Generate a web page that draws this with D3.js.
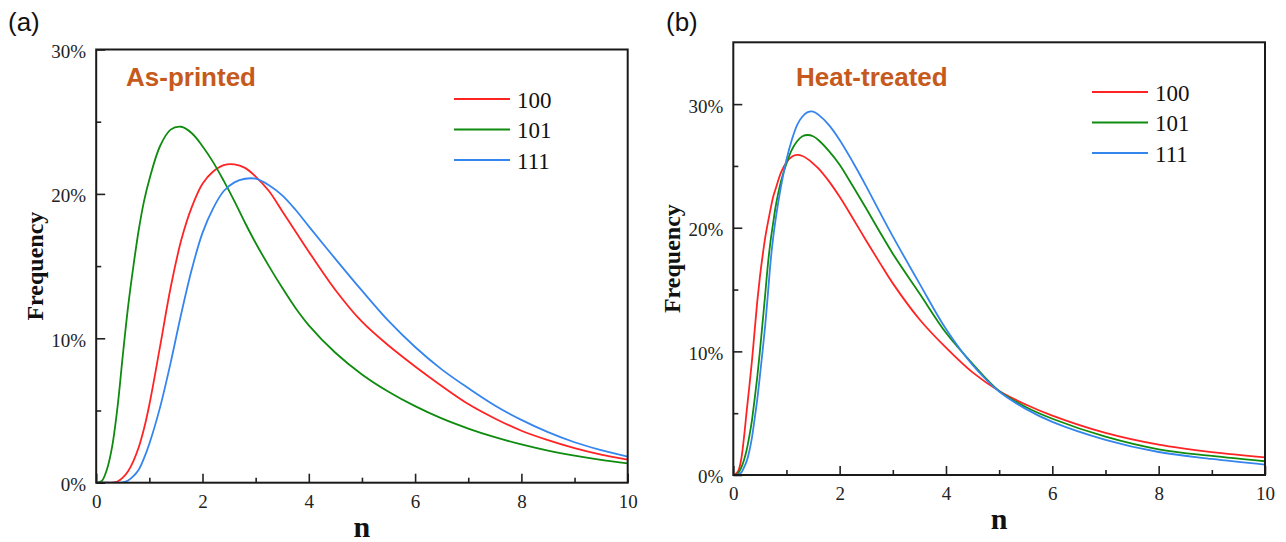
<!DOCTYPE html>
<html>
<head>
<meta charset="utf-8">
<script src="https://cdn.jsdelivr.net/npm/d3@7"></script>
<style>
  body { margin: 0; background: #fff; }
  svg { display: block; }
  .tick text { font-family: "Liberation Serif", "Times New Roman", serif; font-size: 19px; fill: #222; }
</style>
</head>
<body>
<svg id="chart" width="1286" height="542"></svg>
<script>
// n grid + frequencies (%)
const nA = [0, 0.1, 0.2, 0.3, 0.4, 0.5, 0.6, 0.7, 0.8, 0.9, 1.0, 1.2, 1.4, 1.6, 1.8, 2.0, 2.2, 2.4, 2.6, 2.8, 3.0, 3.25, 3.5, 3.75, 4.0, 4.5, 5.0, 5.5, 6.0, 6.5, 7.0, 7.5, 8.0, 8.5, 9.0, 9.5, 10];
const a100 = [0, 0, 0, 0, 0.08, 0.35, 0.8, 1.5, 2.45, 3.75, 5.4, 9.4, 13.5, 16.8, 19.1, 20.7, 21.55, 22.0, 22.05, 21.8, 21.2, 20.2, 18.8, 17.4, 16.0, 13.35, 11.15, 9.5, 8.05, 6.7, 5.45, 4.45, 3.6, 2.95, 2.4, 1.95, 1.6];
const a101 = [0, 0.1, 0.9, 2.5, 5.2, 8.8, 12.2, 15.0, 17.5, 19.5, 21.0, 23.3, 24.45, 24.65, 24.2, 23.3, 22.2, 20.9, 19.5, 18.0, 16.6, 15.0, 13.5, 12.1, 10.9, 9.0, 7.5, 6.3, 5.3, 4.45, 3.75, 3.15, 2.65, 2.22, 1.87, 1.58, 1.34];
const a111 = [0, 0, 0, 0, 0, 0.02, 0.15, 0.45, 0.9, 1.7, 2.7, 5.2, 8.3, 11.7, 14.8, 17.3, 19.0, 20.2, 20.8, 21.05, 21.05, 20.6, 19.9, 18.9, 17.75, 15.5, 13.3, 11.2, 9.4, 7.85, 6.55, 5.35, 4.35, 3.5, 2.8, 2.25, 1.8];

const nB = [0, 0.05, 0.1, 0.15, 0.2, 0.25, 0.3, 0.35, 0.4, 0.45, 0.5, 0.55, 0.6, 0.65, 0.7, 0.75, 0.8, 0.9, 1.0, 1.1, 1.2, 1.3, 1.4, 1.5, 1.6, 1.8, 2.0, 2.25, 2.5, 2.75, 3.0, 3.5, 4.0, 4.5, 5.0, 5.5, 6, 7, 8, 9, 10];
const b100 = [0, 0.1, 0.4, 1.3, 3.0, 5.1, 7.1, 9.2, 11.6, 14.0, 16.0, 17.7, 19.2, 20.4, 21.5, 22.5, 23.2, 24.5, 25.3, 25.75, 25.9, 25.8, 25.55, 25.2, 24.8, 23.75, 22.5, 20.75, 18.95, 17.2, 15.5, 12.6, 10.3, 8.3, 6.8, 5.7, 4.8, 3.4, 2.45, 1.85, 1.43];
const b101 = [0, 0, 0.2, 0.6, 1.2, 2.0, 3.1, 4.4, 6.1, 7.9, 10.0, 12.3, 14.6, 17.0, 18.9, 20.4, 21.8, 23.8, 25.2, 26.3, 27.0, 27.4, 27.5, 27.4, 27.1, 26.2, 25.1, 23.35, 21.55, 19.7, 17.9, 14.7, 11.5, 9.0, 6.8, 5.5, 4.55, 3.1, 2.08, 1.54, 1.11];
const b111 = [0, 0, 0.05, 0.2, 0.6, 1.1, 1.9, 3.0, 4.5, 6.1, 8.0, 10.0, 12.1, 14.6, 17.2, 19.2, 20.8, 23.4, 25.5, 27.1, 28.3, 29.0, 29.35, 29.4, 29.15, 28.3, 27.1, 25.3, 23.35, 21.3, 19.3, 15.5, 11.8, 8.9, 6.75, 5.35, 4.3, 2.85, 1.86, 1.3, 0.84];

const seriesNames = ["100", "101", "111"];
const seriesColors = ["#ff2424", "#0f8c0f", "#3585ee"];
const xMajor = [0, 2, 4, 6, 8, 10];
const xMinor = [1, 3, 5, 7, 9];
const yMajor = [0, 10, 20, 30];
const yMinor = [5, 15, 25];

const serif = '"Liberation Serif", "Times New Roman", serif';
const sans = '"Liberation Sans", Arial, sans-serif';
const svg = d3.select("#chart");

function drawPanel(p) {
  const x = d3.scaleLinear().domain([0, 10]).range([p.left, p.right]);
  const y = d3.scaleLinear().domain([0, p.yMax]).range([p.bottom, p.top]);
  const g = svg.append("g");

  // minor ticks (no labels)
  g.append("g").attr("transform", `translate(0,${p.bottom})`)
    .call(d3.axisBottom(x).tickValues(xMinor).tickSize(-5).tickFormat(""));
  g.append("g").attr("transform", `translate(${p.left},0)`)
    .call(d3.axisLeft(y).tickValues(yMinor).tickSize(-5).tickFormat(""));
  // major ticks
  g.append("g").attr("transform", `translate(0,${p.bottom})`)
    .call(d3.axisBottom(x).tickValues(xMajor).tickSize(-9).tickPadding(12).tickFormat(d3.format("d")));
  g.append("g").attr("transform", `translate(${p.left},0)`)
    .call(d3.axisLeft(y).tickValues(yMajor).tickSize(-9).tickPadding(10).tickFormat(d => d + "%"))
    .selectAll("text").attr("dy", "0.42em");

  g.selectAll(".domain").remove();
  g.selectAll(".tick line").attr("stroke", "#222").attr("stroke-width", 1.6);

  const clipId = "clip" + p.tag;
  svg.append("clipPath").attr("id", clipId).append("rect")
    .attr("x", p.left).attr("y", p.top).attr("width", p.right - p.left).attr("height", p.bottom - p.top);

  const line = d3.line()
    .x(d => x(d[0]))
    .y(d => y(d[1]))
    .curve(d3.curveCatmullRom.alpha(0.5));

  p.series.forEach((vals, i) => {
    g.append("path")
      .datum(p.n.map((v, j) => [v, vals[j]]))
      .attr("clip-path", `url(#${clipId})`)
      .attr("fill", "none")
      .attr("stroke", seriesColors[i])
      .attr("stroke-width", 1.8)
      .attr("d", line);
  });

  // frame
  g.append("rect")
    .attr("x", p.left).attr("y", p.top)
    .attr("width", p.right - p.left).attr("height", p.bottom - p.top)
    .attr("fill", "none").attr("stroke", "#1a1a1a").attr("stroke-width", 2);

  // legend
  seriesNames.forEach((name, i) => {
    const ly = p.legY + i * 30.5;
    g.append("line")
      .attr("x1", p.legX).attr("x2", p.legX + 56)
      .attr("y1", ly).attr("y2", ly)
      .attr("stroke", seriesColors[i]).attr("stroke-width", 1.8);
    g.append("text")
      .attr("x", p.legX + 63).attr("y", ly + 8.5)
      .attr("font-family", serif).attr("font-size", 23).attr("fill", "#111")
      .text(name);
  });

  // labels
  g.append("text").attr("x", p.panelX).attr("y", 31)
    .attr("font-family", sans).attr("font-size", 26).attr("fill", "#111")
    .text(p.panel);
  g.append("text").attr("x", p.titleX).attr("y", 86)
    .attr("font-family", sans).attr("font-size", 26).attr("font-weight", "bold")
    .attr("fill", "#c55a1c").text(p.title);
  g.append("text").attr("x", (p.left + p.right) / 2).attr("y", p.bottom + 54)
    .attr("text-anchor", "middle")
    .attr("font-family", serif).attr("font-size", 30).attr("font-weight", "bold").attr("fill", "#111")
    .text("n");
  g.append("text")
    .attr("transform", `translate(${p.ylabX},${(p.top + p.bottom) / 2}) rotate(-90)`)
    .attr("text-anchor", "middle")
    .attr("font-family", serif).attr("font-size", 24).attr("font-weight", "bold").attr("fill", "#111")
    .text("Frequency");
}

drawPanel({
  tag: "a", panel: "(a)", panelX: 8, title: "As-printed", titleX: 126,
  left: 96.2, right: 627.7, top: 49.5, bottom: 482.7, yMax: 30,
  n: nA, series: [a100, a101, a111],
  legX: 454, legY: 99, ylabX: 43
});
drawPanel({
  tag: "b", panel: "(b)", panelX: 666, title: "Heat-treated", titleX: 796,
  left: 733.3, right: 1265, top: 42.3, bottom: 475, yMax: 35,
  n: nB, series: [b100, b101, b111],
  legX: 1092, legY: 92, ylabX: 680
});
</script>
</body>
</html>
